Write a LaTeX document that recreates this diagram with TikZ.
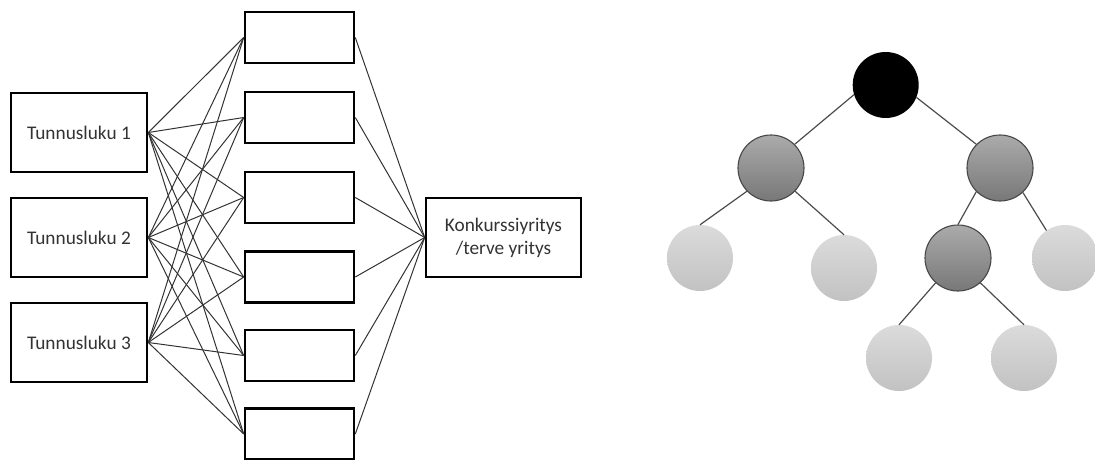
\documentclass[tikz,border=0pt]{standalone}
\usepackage{fontspec}
\setmainfont{Carlito}
\begin{document}
\begin{tikzpicture}[x=1pt,y=-1pt,
  inbox/.style={draw=black,line width=2.6pt,minimum width=136pt,minimum height=79pt,inner sep=0pt,font=\fontsize{19.3}{23}\selectfont,text=black!80},
  hidbox/.style={draw=black,line width=2.6pt,minimum width=109pt,minimum height=51pt,inner sep=0pt},
  outbox/.style={draw=black,line width=2.6pt,minimum width=155pt,minimum height=79pt,inner sep=0pt,align=center,font=\fontsize{19.3}{23}\selectfont,text=black!80},
  conn/.style={draw=black!80,line width=1pt},
  tnode/.style={circle,minimum size=66pt,inner sep=0pt},
  rootn/.style={tnode,fill=black},
  midn/.style={tnode,draw=black!72,line width=1.1pt,top color=black!33,bottom color=black!53},
  leafn/.style={tnode,top color=black!14,bottom color=black!24},
  tedge/.style={draw=black!70,line width=1.2pt}]
\useasboundingbox (0,0) rectangle (1095,460);
% left network
\node[inbox] (t1) at (79,132.5) {Tunnusluku 1};
\node[inbox] (t2) at (79,237.5) {Tunnusluku 2};
\node[inbox] (t3) at (79,342.5) {Tunnusluku 3};
\node[hidbox] (h1) at (299.5,37.5) {};
\node[hidbox] (h2) at (299.5,117.5) {};
\node[hidbox] (h3) at (299.5,197.5) {};
\node[hidbox] (h4) at (299.5,277) {};
\node[hidbox] (h5) at (299.5,355.5) {};
\node[hidbox] (h6) at (299.5,434) {};
\node[outbox] (o) at (503.5,237.5) {Konkurssiyritys\\/terve yritys};
\foreach \i in {1,2,3}{
  \foreach \j in {1,...,6}{
    \draw[conn] (t\i.east) -- (h\j.west);
  }
}
\foreach \j in {1,...,6}{
  \draw[conn] (h\j.east) -- (o.west);
}
% tree
\node[rootn] (r) at (885.7,85) {};
\node[midn] (l) at (771,168) {};
\node[midn] (rr) at (1000,168) {};
\node[leafn] (ll) at (700,258) {};
\node[leafn] (lr) at (844,268) {};
\node[midn] (m) at (958,258) {};
\node[leafn] (rl) at (1065,258) {};
\node[leafn] (bl) at (899,358) {};
\node[leafn] (br) at (1024,358) {};
\draw[tedge] (r.197) -- (l.45);
\draw[tedge] (r.338) -- (rr.135);
\draw[tedge] (l.224) -- (ll.north);
\draw[tedge] (l.316) -- (lr.north);
\draw[tedge] (rr.225) -- (m.north);
\draw[tedge] (rr.313) -- (rl.124);
\draw[tedge] (m.228) -- (bl.north);
\draw[tedge] (m.312) -- (br.north);
\end{tikzpicture}
\end{document}
